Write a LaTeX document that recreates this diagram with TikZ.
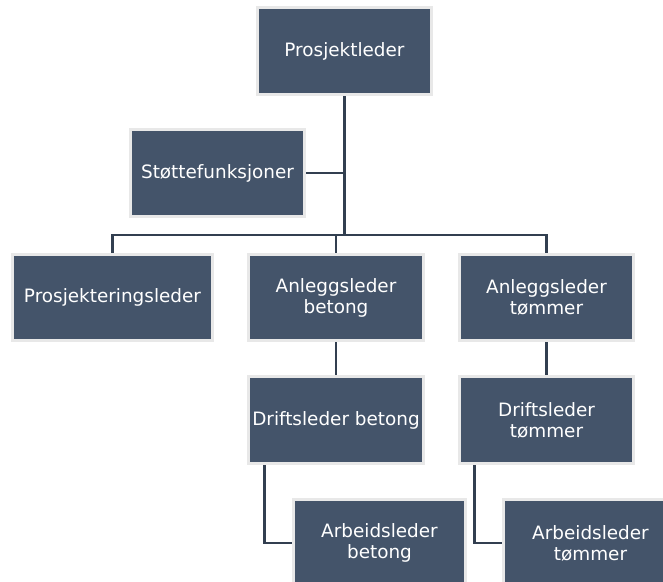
\documentclass[tikz,border=0pt]{standalone}
\usepackage{fontspec}
\setmainfont{DejaVu Sans}
\usetikzlibrary{backgrounds}
\definecolor{boxfill}{HTML}{44546A}
\definecolor{boxedge}{HTML}{E8E8E8}
\definecolor{linkcol}{HTML}{323F50}
\tikzset{
  orgbox/.style={draw=boxedge, line width=3pt, fill=boxfill, text=white,
    minimum height=87pt, inner sep=0pt, align=center,
    font=\fontsize{18.4pt}{21pt}\selectfont},
  link/.style={draw=linkcol, line width=2.2pt}
}
\begin{document}
\begin{tikzpicture}[x=1pt, y=-1pt]
\useasboundingbox (0,0) rectangle (663,581);

% boxes
\node[orgbox, minimum width=174pt] (pl) at (344.5,51) {Prosjektleder};
\node[orgbox, minimum width=174pt] (sf) at (217.5,173) {Støttefunksjoner};
\node[orgbox, minimum width=200pt, minimum height=86pt] (pr) at (112.5,297.5) {Prosjekteringsleder};
\node[orgbox, minimum width=175pt, minimum height=86pt] (ab) at (336,297.5) {Anleggsleder\\betong};
\node[orgbox, minimum width=174pt, minimum height=86pt] (at) at (546.5,297.5) {Anleggsleder\\tømmer};
\node[orgbox, minimum width=175pt] (db) at (336,420) {Driftsleder betong};
\node[orgbox, minimum width=174pt] (dt) at (546.5,420) {Driftsleder\\tømmer};
\node[orgbox, minimum width=172pt] (wb) at (379.5,543) {Arbeidsleder\\betong};
\node[orgbox, minimum width=174pt] (wt) at (590.5,543) {Arbeidsleder\\tømmer};

% bus below the project leader
\coordinate (busL) at (112.5,235);
\coordinate (busR) at (546.5,235);

\begin{scope}[on background layer]
  \draw[link] (pl.south) -- (pl.south |- busL);
  \draw[link] (sf.east) -- (sf.east -| pl.south);
  \draw[link] (pr.north) -- (busL) -- (busR) -- (at.north);
  \draw[link] (ab.north) -- (ab.north |- busL);
  \draw[link] (ab.south) -- (db.north);
  \draw[link] (at.south) -- (dt.north);
  \draw[link] ([xshift=17.5pt]db.south west) |- (wb.west);
  \draw[link] ([xshift=16.5pt]dt.south west) |- (wt.west);
\end{scope}
\end{tikzpicture}
\end{document}
